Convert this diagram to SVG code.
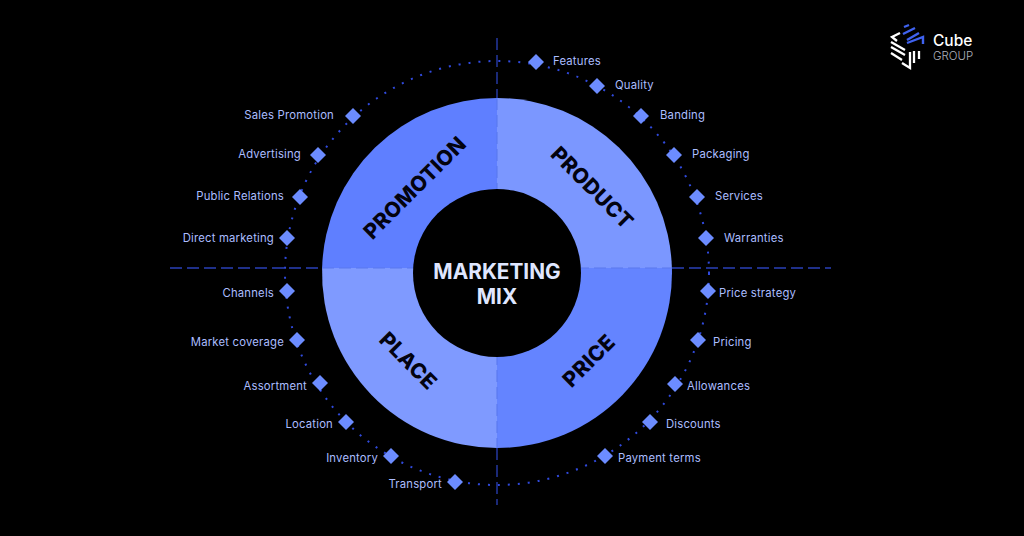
<svg xmlns="http://www.w3.org/2000/svg" width="1024" height="536" viewBox="0 0 1024 536">
<style>
.l{font-family:"Inter","Liberation Sans",sans-serif;font-size:11.3px;fill:#abbdff;letter-spacing:.2px}
.e{text-anchor:end}
.h{font-family:"Inter","Liberation Sans",sans-serif;font-size:21px;font-weight:800;fill:#03030f;text-anchor:middle;letter-spacing:.3px}
.c{font-family:"Inter","Liberation Sans",sans-serif;font-size:20.8px;font-weight:700;fill:#dfe6ff;text-anchor:middle}
.d{fill:#6c8cff}
.ax{stroke:#2a40b8;stroke-width:1.3;stroke-dasharray:12 5;fill:none}
.ai{stroke:#5a78ee;stroke-width:1.1;stroke-dasharray:12 5;fill:none}
.lg{fill:none;stroke:#fff;stroke-width:2.3}
</style>
<rect width="1024" height="536" fill="#000"/>
<g id="connectors">
<circle cx="497" cy="273" r="212" fill="none" stroke="#304ade" stroke-width="2" stroke-dasharray="2 8"/>
<line class="ax" x1="497" y1="38" x2="497" y2="98"/>
<line class="ax" x1="497" y1="448" x2="497" y2="505"/>
<line class="ax" x1="170" y1="268" x2="322" y2="268"/>
<line class="ax" x1="672" y1="268" x2="831" y2="268"/>
</g>
<g id="wheel">
<path d="M497 98A175 175 0 0 1 671.9 268H497Z" fill="#7b97ff"/>
<path d="M497 268H671.9A175 175 0 0 1 497 448Z" fill="#6484ff"/>
<path d="M497 268V448A175 175 0 0 1 322.1 268Z" fill="#7f9aff"/>
<path d="M497 268H322.1A175 175 0 0 1 497 98Z" fill="#5f7fff"/>
<line class="ai" x1="497" y1="98" x2="497" y2="448"/>
<line class="ai" x1="322" y1="268" x2="672" y2="268"/>
<circle cx="497" cy="273" r="84" fill="#000"/>
</g>
<g id="center"><text class="c" x="497" y="279">MARKETING</text><text class="c" x="497" y="304">MIX</text></g>
<g id="promotion"><text class="h" transform="translate(415 188) rotate(-45)" x="0" y="7">PROMOTION</text></g>
<g id="product"><text class="h" transform="translate(592 188) rotate(45)" x="0" y="7">PRODUCT</text></g>
<g id="price"><text class="h" transform="translate(589 361) rotate(-45)" x="0" y="7">PRICE</text></g>
<g id="place"><text class="h" transform="translate(408 361) rotate(45)" x="0" y="7">PLACE</text></g>
<defs><path id="dm" d="M0-8L8 0L0 8L-8 0Z"/></defs>
<g class="d">
<g id="n-features"><use href="#dm" x="536" y="62"/><text class="l" x="553" y="65">Features</text></g>
<g id="n-quality"><use href="#dm" x="597" y="86"/><text class="l" x="615" y="89">Quality</text></g>
<g id="n-banding"><use href="#dm" x="641" y="116"/><text class="l" x="660" y="119">Banding</text></g>
<g id="n-packaging"><use href="#dm" x="674" y="155"/><text class="l" x="692" y="158">Packaging</text></g>
<g id="n-services"><use href="#dm" x="697" y="197"/><text class="l" x="715" y="200">Services</text></g>
<g id="n-warranties"><use href="#dm" x="706" y="238"/><text class="l" x="724" y="242">Warranties</text></g>
<g id="n-price-strategy"><use href="#dm" x="708" y="291"/><text class="l" x="719" y="297">Price strategy</text></g>
<g id="n-pricing"><use href="#dm" x="698" y="340"/><text class="l" x="713" y="346">Pricing</text></g>
<g id="n-allowances"><use href="#dm" x="675" y="384"/><text class="l" x="687" y="390">Allowances</text></g>
<g id="n-discounts"><use href="#dm" x="650" y="422"/><text class="l" x="666" y="428">Discounts</text></g>
<g id="n-payment"><use href="#dm" x="605" y="456"/><text class="l" x="618" y="462">Payment terms</text></g>
<g id="n-transport"><use href="#dm" x="455" y="482"/><text class="l e" x="442" y="488">Transport</text></g>
<g id="n-inventory"><use href="#dm" x="391" y="456"/><text class="l e" x="378" y="462">Inventory</text></g>
<g id="n-location"><use href="#dm" x="346" y="422"/><text class="l e" x="333" y="428">Location</text></g>
<g id="n-assortment"><use href="#dm" x="320" y="383"/><text class="l e" x="307" y="390">Assortment</text></g>
<g id="n-coverage"><use href="#dm" x="297" y="340"/><text class="l e" x="284" y="346">Market coverage</text></g>
<g id="n-channels"><use href="#dm" x="287" y="291"/><text class="l e" x="274" y="297">Channels</text></g>
<g id="n-direct"><use href="#dm" x="287" y="238"/><text class="l e" x="274" y="242">Direct marketing</text></g>
<g id="n-pr"><use href="#dm" x="300" y="197"/><text class="l e" x="284" y="200">Public Relations</text></g>
<g id="n-advertising"><use href="#dm" x="318" y="155"/><text class="l e" x="301" y="158">Advertising</text></g>
<g id="n-sales"><use href="#dm" x="353" y="116"/><text class="l e" x="334" y="119">Sales Promotion</text></g>
</g>
<g id="logo">
<path d="M904 27l5-2M903 34l12-6M907 40l12-7M907 43l16-6v7" fill="none" stroke="#3f62f0" stroke-width="2.4"/>
<path class="lg" d="M900 33l-8 4 5 4M891 42l14 8M891 47l14 8M891 53l11 7M910 52v16l-8-5M914 51v12M919 51v8"/>
<text x="933" y="46" font-family="Inter,'Liberation Sans',sans-serif" font-size="15.5" font-weight="500" fill="#fff">Cube</text>
<text x="933" y="60" font-family="Inter,'Liberation Sans',sans-serif" font-size="11.5" font-weight="300" fill="#aeb2bc">GROUP</text>
</g>
</svg>
